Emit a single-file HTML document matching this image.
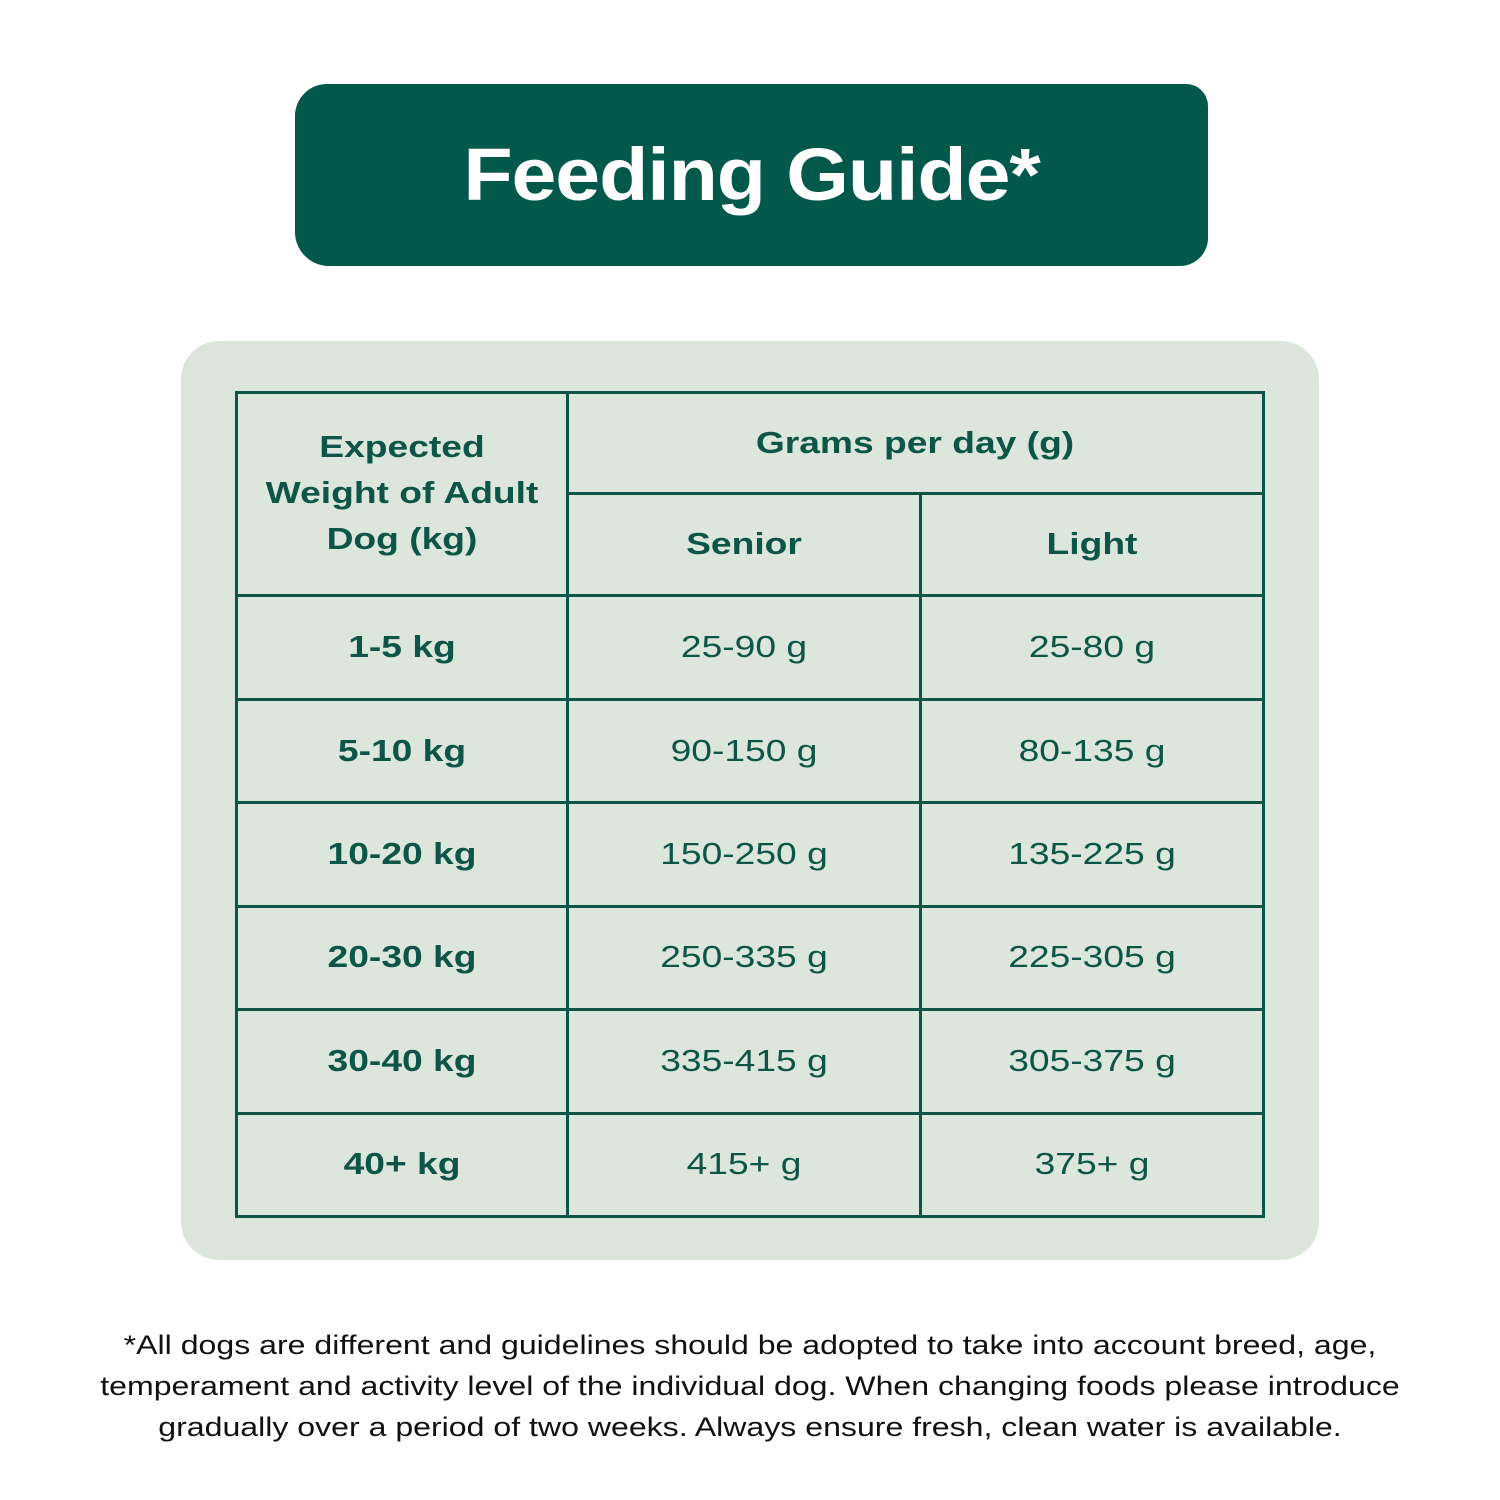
<!DOCTYPE html>
<html><head><style>
body{margin:0;width:1500px;height:1500px;background:#fff;position:relative;font-family:"Liberation Sans",sans-serif;overflow:hidden}
.banner{position:absolute;left:295px;top:84px;width:913px;height:182px;background:#02584a;border-radius:32px 22px 28px 34px;}
.title{position:absolute;left:295px;top:84px;width:913px;height:182px;line-height:182px;text-align:center;color:#fff;font-weight:bold;font-size:74px;letter-spacing:-1px;transform:scaleX(1.09)}
.panel{position:absolute;left:181px;top:341px;width:1138px;height:919px;background:#dce6dc;border-radius:38px}
.t{position:absolute;color:#0d5546;font-size:31px;text-align:center;transform:translate(-50%,-50%) scaleX(1.2);white-space:nowrap}
.b{font-weight:bold}
.h{position:absolute;background:#0d5546;height:3px}
.v{position:absolute;background:#0d5546;width:3px}
.foot{position:absolute;left:0;top:1325px;width:1500px;text-align:center;font-size:26.5px;line-height:41px;color:#111;transform:scaleX(1.21)}
</style></head><body>
<div class="banner"></div><div class="title">Feeding Guide*</div>
<div class="panel"></div>
<div class="h" style="left:236px;top:391px;width:1029px"></div>
<div class="h" style="left:567px;top:492px;width:698px"></div>
<div class="h" style="left:236px;top:594px;width:1029px"></div>
<div class="h" style="left:236px;top:698px;width:1029px"></div>
<div class="h" style="left:236px;top:801px;width:1029px"></div>
<div class="h" style="left:236px;top:905px;width:1029px"></div>
<div class="h" style="left:236px;top:1008px;width:1029px"></div>
<div class="h" style="left:236px;top:1112px;width:1029px"></div>
<div class="h" style="left:236px;top:1215px;width:1029px"></div>
<div class="v" style="left:235px;top:391px;height:827px"></div>
<div class="v" style="left:566px;top:391px;height:827px"></div>
<div class="v" style="left:919px;top:492px;height:726px"></div>
<div class="v" style="left:1262px;top:391px;height:827px"></div>
<div class="t b" style="left:402px;top:493px;line-height:46px">Expected<br>Weight of Adult<br>Dog (kg)</div>
<div class="t b" style="left:915px;top:443px">Grams per day (g)</div>
<div class="t b" style="left:744px;top:544px">Senior</div>
<div class="t b" style="left:1092px;top:544px">Light</div>
<div class="t b" style="left:402px;top:647px">1-5 kg</div>
<div class="t" style="left:744px;top:647px">25-90 g</div>
<div class="t" style="left:1092px;top:647px">25-80 g</div>
<div class="t b" style="left:402px;top:751px">5-10 kg</div>
<div class="t" style="left:744px;top:751px">90-150 g</div>
<div class="t" style="left:1092px;top:751px">80-135 g</div>
<div class="t b" style="left:402px;top:854px">10-20 kg</div>
<div class="t" style="left:744px;top:854px">150-250 g</div>
<div class="t" style="left:1092px;top:854px">135-225 g</div>
<div class="t b" style="left:402px;top:957px">20-30 kg</div>
<div class="t" style="left:744px;top:957px">250-335 g</div>
<div class="t" style="left:1092px;top:957px">225-305 g</div>
<div class="t b" style="left:402px;top:1061px">30-40 kg</div>
<div class="t" style="left:744px;top:1061px">335-415 g</div>
<div class="t" style="left:1092px;top:1061px">305-375 g</div>
<div class="t b" style="left:402px;top:1164px">40+ kg</div>
<div class="t" style="left:744px;top:1164px">415+ g</div>
<div class="t" style="left:1092px;top:1164px">375+ g</div>
<div class="foot">*All dogs are different and guidelines should be adopted to take into account breed, age,<br>temperament and activity level of the individual dog. When changing foods please introduce<br>gradually over a period of two weeks. Always ensure fresh, clean water is available.</div>
</body></html>
